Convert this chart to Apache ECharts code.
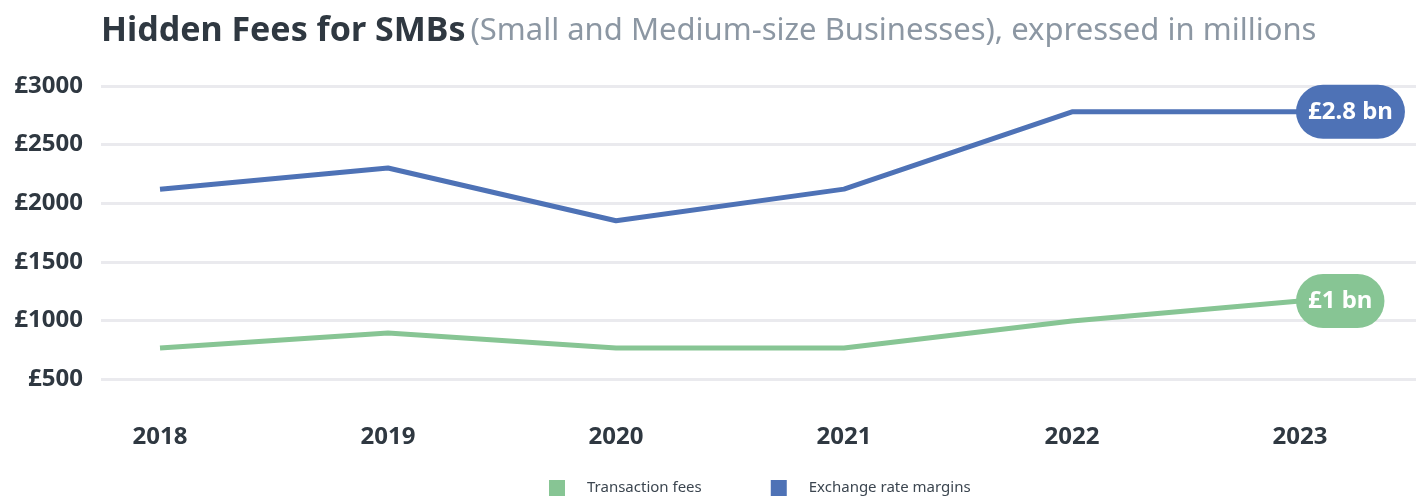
<!DOCTYPE html>
<html>
<head>
<meta charset="utf-8">
<script src="https://cdn.jsdelivr.net/npm/echarts@6/dist/echarts.min.js"></script>
<style>
  html, body { margin: 0; padding: 0; background: #fff; }
  #chart { width: 1423px; height: 497px; }
</style>
</head>
<body>
<div id="chart"></div>
<script>
// data
var years = ['2018', '2019', '2020', '2021', '2022', '2023'];
var transactionFees = [765, 893, 765, 765, 995, 1165];
var exchangeMargins = [2120, 2300, 1850, 2120, 2780, 2780];
var endLabels = ['£1 bn', '£2.8 bn'];
var yMin = 500, yMax = 3000, yStep = 500;

var blue = '#4e72b6';
var green = '#87c594';
var dark = '#2f3841';
var font = 'Noto Sans';

var chart = echarts.init(document.getElementById('chart'));

function endLabel(txt, color) {
	return {
		show: true,
		formatter: txt,
		distance: -4,
		color: '#fff',
		fontFamily: font,
		fontWeight: 'bold',
		fontSize: 24,
		lineHeight: 30,
		backgroundColor: color,
		borderRadius: 27,
		padding: [12, 12, 12, 12]
	};
}

var option = {
	animation: false,
	title: {
		left: 96,
		top: 9,
		text: '{a|Hidden Fees for SMBs} {b|(Small and Medium-size Businesses), expressed in millions}',
		textStyle: {
			rich: {
				a: { fontFamily: font, fontWeight: 'bold', fontSize: 34, color: dark },
				b: { fontFamily: font, fontWeight: 'normal', fontSize: 31, color: '#8c97a3' }
			}
		}
	},
	legend: {
		left: 549,
		top: 480,
		padding: 0,
		itemWidth: 16,
		itemHeight: 16,
		itemGap: 69,
		icon: 'rect',
		textStyle: { fontFamily: font, fontSize: 15, color: '#3c4650', padding: [0, 0, 0, 17] },
		data: ['Transaction fees', 'Exchange rate margins']
	},
	grid: [
		// background grid for the split lines
		{ left: 101, right: 7, top: 86, bottom: 118 },
		// data grid
		{ left: 160, right: 123, top: 86, bottom: 118 }
	],
	xAxis: [
		{ gridIndex: 0, type: 'category', data: years, show: false },
		{
			gridIndex: 1, type: 'category', data: years, boundaryGap: false,
			axisLine: { show: false }, axisTick: { show: false },
			axisLabel: { margin: 46, fontFamily: font, fontWeight: 'bold', fontSize: 24, color: dark }
		}
	],
	yAxis: [
		{
			gridIndex: 0, type: 'value', min: yMin, max: yMax, interval: yStep,
			axisLine: { show: false }, axisTick: { show: false },
			axisLabel: {
				margin: 18, fontFamily: font, fontWeight: 'bold', fontSize: 24, color: dark,
				formatter: function (v) { return '£' + v; }
			},
			splitLine: { lineStyle: { color: '#eaeaee', width: 3 } }
		},
		{
			gridIndex: 1, type: 'value', min: yMin, max: yMax, interval: yStep,
			show: false, splitLine: { show: false }
		}
	],
	series: [
		{
			name: 'Transaction fees',
			type: 'line',
			xAxisIndex: 1, yAxisIndex: 1,
			data: transactionFees,
			showSymbol: false,
			color: green,
			lineStyle: { width: 5, color: green },
			endLabel: endLabel(endLabels[0], green)
		},
		{
			name: 'Exchange rate margins',
			type: 'line',
			xAxisIndex: 1, yAxisIndex: 1,
			data: exchangeMargins,
			showSymbol: false,
			color: blue,
			lineStyle: { width: 5, color: blue },
			endLabel: endLabel(endLabels[1], blue)
		}
	]
};

chart.setOption(option);
</script>
</body>
</html>
